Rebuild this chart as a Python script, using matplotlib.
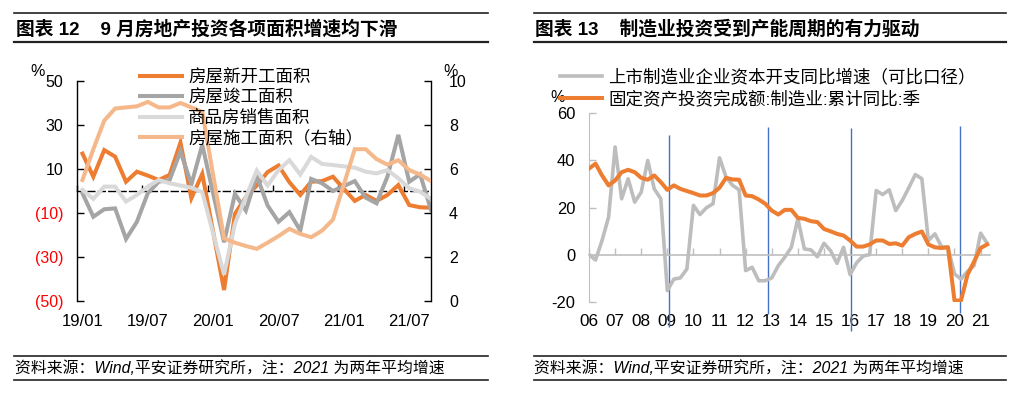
import numpy as np
import matplotlib
matplotlib.use('Agg')
import matplotlib.pyplot as plt
from matplotlib.lines import Line2D

plt.rcParams['font.family'] = ['Liberation Sans', 'Noto Sans CJK SC']
plt.rcParams['axes.unicode_minus'] = False

# ---------------- Left chart data (monthly 19/01 - 21/09, None = no January print) ----------------
months = [f'{y}/{m:02d}' for y in (19, 20, 21) for m in range(1, 13)][:33]
left_xticklabels = ['19/01', '19/07', '20/01', '20/07', '21/01', '21/07']
new_start = [17, 6.5, 18.6, 15.6, 4.2, 8.8, 7, 5, 7.3, 22,
             -3.3, 7.8, None, -45, -10.4, -2.8, 2.5, 8.6, 11.6, 4,
             -1.8, 4.2, 4.5, 6.5, None, -4.5, -1.8, -4.5, -1.8, 2.7,
             -6.4, -7.4, -7.6]
completed = [-1, -11.7, -8.3, -7.9, -21.8, -14, -1, 4.2, 5, 18,
             3, 21, None, -23.3, -1.3, -8.9, 7, -6.6, -14, -9.6,
             -18, 5.5, 3.5, 0, None, 4.5, -3, -5.6, 6.5, 25.5,
             4.2, 7.6, -8.6]
sales = [0.5, -3.6, 2, 2, -4.8, -1.8, 2, 5, 3.5, 2.5,
         1.5, -0.5, None, -38, -14.9, -2.8, 9.3, 2.5, 9.5, 14,
         7.5, 15.5, 12.3, 11.8, None, 10.6, 8.8, 8, 9.5, 5.8,
         1.2, -0.3, -3.6]
under_construction = [5.5, 6.9, 8.2, 8.75, 8.8, 8.85, 9.05, 8.8, 8.8, 9.0,
                      8.8, 8.6, None, 2.85, 2.65, 2.5, 2.37, 2.65, 2.95, 3.28,
                      3.05, 2.9, 3.2, 3.7, None, 6.9, 6.9, 6.45, 6.2, 6.4,
                      5.95, 5.75, 5.45]
left_yticks = [50, 30, 10, -10, -30, -50]
left_yticklabels = ['50', '30', '10', '(10)', '(30)', '(50)']
right_yticks = [0, 2, 4, 6, 8, 10]
left_labels = ['房屋新开工面积', '房屋竣工面积', '商品房销售面积', '房屋施工面积（右轴）']

# ---------------- Right chart data (quarterly 2006Q1 - 2021Q2) ----------------
quarters = [(y, q) for y in range(2006, 2022) for q in range(1, 5)][:62]
capex = [0, -2.3, 6, 15.9, 45.7, 23.7, 32.2, 22.3, 26.5, 40,
         27.9, 23.7, -15.3, -10.4, -9.9, -6.1, 20.9, 17, 19.9, 21.6,
         41.1, 32.9, 29.4, 27.5, -6.8, -5.4, -11.1, -11.1, -9.9, -4.7,
         -1.1, 3.1, 15.2, 2.4, 2, -0.9, 4.8, 1.7, -3.7, 3.1,
         -8.5, -3.5, -0.6, 0, 27.2, 25.5, 27.5, 18.7, 23, 28.4,
         34, 32.2, 6, 8.8, 3.4, 3.1, -8.2, -10.4, -7.1, -4.7,
         9.1, 4.8]
mfg_fai = [36.5, 38.6, 33.6, 29.4, 31.5, 35, 36, 35, 32.6, 31.8,
           33.6, 30.8, 27.5, 29.4, 27.9, 27, 26.1, 25.1, 25.1, 26.1,
           28.4, 32.6, 31.9, 31.8, 25.1, 24.8, 23.4, 21.6, 18.7, 17,
           19, 19, 15.6, 15.2, 14.2, 13.8, 10.9, 9.9, 8.8, 8.1,
           6, 3.4, 3.4, 4.3, 6, 6, 4.5, 4.8, 3.8, 7.4,
           8.8, 9.8, 4.3, 3.1, 2.8, 3.1, -19.5, -19.5, -8.5, -3,
           2.8, 4.3]
years = list(range(2006, 2022))
year_labels = [f'{y % 100:02d}' for y in years]
q_yticks = [-20, 0, 20, 40, 60]
right_labels = ['上市制造业企业资本开支同比增速（可比口径）', '固定资产投资完成额:制造业:累计同比:季']
# hand-drawn cycle divider lines (x in years, y range in % units)
cycle_x = [2009.05, 2012.85, 2016.05, 2020.2]
cycle_top = [50.9, 54.2, 53.7, 54.6]
cycle_bottom = [-30.9, -25.1, -32.3, -24.6]

# ---------------- Figure ----------------
W, H = 1024, 397
fig = plt.figure(figsize=(W / 100, H / 100), dpi=100)

C_ORANGE = '#ED7D31'
C_GRAY = '#A5A5A5'
C_LGRAY = '#D9D9D9'
C_PEACH = '#F5B88A'


def series(ax, xv, vals, **kw):
    y = np.array([np.nan if v is None else v for v in vals], float)
    m = ~np.isnan(y)
    return ax.plot(np.asarray(xv)[m], y[m], **kw)[0]


# ---- Left chart ----
axL = fig.add_axes([77 / W, 1 - 301 / H, 354 / W, 220 / H])
xi = np.arange(len(months))
h1 = series(axL, xi, new_start, color=C_ORANGE, lw=2.9, zorder=3, solid_joinstyle='miter')
h2 = series(axL, xi, completed, color=C_GRAY, lw=2.9, zorder=3, solid_joinstyle='miter')
h3 = series(axL, xi, sales, color=C_LGRAY, lw=2.9, zorder=3, solid_joinstyle='miter')
axL.set_xlim(-0.35, 32)
axL.set_ylim(-50, 50)
for s in ('top', 'right'):
    axL.spines[s].set_visible(False)
axL.spines['left'].set_linewidth(1.0)
axL.spines['bottom'].set_position(('data', 0))
axL.spines['bottom'].set_linestyle((0, (5, 2.5)))
axL.spines['bottom'].set_linewidth(1.0)
tick_idx = [months.index(l) for l in left_xticklabels]
axL.set_xticks([t - 0.5 for t in tick_idx])
axL.tick_params(axis='x', direction='in', length=4, width=1, labelbottom=False)
axL.set_yticks(left_yticks)
axL.set_yticklabels(left_yticklabels)
axL.tick_params(axis='y', direction='in', length=5, width=1, pad=10, labelsize=11.5)
for lab, v in zip(axL.get_yticklabels(), left_yticks):
    lab.set_color('#FF0000' if v < 0 else 'black')
secL = axL.secondary_xaxis('bottom')
secL.set_xticks(tick_idx)
secL.set_xticklabels(left_xticklabels)
secL.tick_params(length=0, pad=9, labelsize=12)
secL.spines['bottom'].set_visible(False)

axR = axL.twinx()
h4 = series(axR, xi, under_construction, color=C_PEACH, lw=2.9, zorder=3, solid_joinstyle='miter')
axR.set_ylim(0, 10)
axR.set_yticks(right_yticks)
axR.set_yticklabels([str(v) for v in right_yticks])
for s in ('top', 'left', 'bottom'):
    axR.spines[s].set_visible(False)
axR.spines['right'].set_linewidth(1.0)
axR.tick_params(axis='y', direction='in', length=5, width=1, pad=13, labelsize=11.5)

fig.legend([h1, h2, h3, h4], left_labels, loc='upper left',
           bbox_to_anchor=(140 / W, 1 - 69 / H), frameon=False, fontsize=12.6,
           handlelength=2.4, handletextpad=0.35, labelspacing=0.22,
           borderpad=0, borderaxespad=0)
fig.text(38 / W, 1 - 72 / H, '%', fontsize=11.5, ha='center', va='center')
fig.text(451 / W, 1 - 72 / H, '%', fontsize=11.5, ha='center', va='center')

# ---- Right chart ----
axQ = fig.add_axes([589 / W, 1 - 301.7 / H, 401 / W, 188.4 / H])
qx = [y + (q - 1) / 4 for (y, q) in quarters]
axQ.vlines(cycle_x, cycle_bottom, cycle_top, colors='#4472C4', lw=1.0, clip_on=False, zorder=1.5)
g1 = series(axQ, qx, capex, color='#BDBDBD', lw=2.6, zorder=3)
g2 = series(axQ, qx, mfg_fai, color=C_ORANGE, lw=2.9, zorder=4)
axQ.set_xlim(2006, 2021.36)
axQ.set_ylim(-20, 60)
for s in ('top', 'right'):
    axQ.spines[s].set_visible(False)
axQ.spines['left'].set_color('#BFBFBF')
axQ.spines['bottom'].set_position(('data', 0))
axQ.spines['bottom'].set_color('#BFBFBF')
axQ.spines['bottom'].set_linewidth(1.2)
axQ.set_xticks(years)
axQ.tick_params(axis='x', direction='in', length=5, width=1, color='#BFBFBF', labelbottom=False)
axQ.set_yticks(q_yticks)
axQ.set_yticklabels([str(v) for v in q_yticks])
axQ.tick_params(axis='y', direction='in', length=5, width=1, color='#BFBFBF', pad=10, labelsize=11.9)
secQ = axQ.secondary_xaxis('bottom')
secQ.set_xticks(years)
secQ.set_xticklabels(year_labels)
secQ.tick_params(length=0, pad=9, labelsize=12.3)
secQ.spines['bottom'].set_visible(False)

fig.legend([g1, g2], right_labels, loc='upper left',
           bbox_to_anchor=(560 / W, 1 - 68 / H), frameon=False, fontsize=12.6,
           handlelength=2.4, handletextpad=0.35, labelspacing=0.3,
           borderpad=0, borderaxespad=0)
fig.text(558 / W, 1 - 97 / H, '%', fontsize=11.5, ha='center', va='center')

# ---- Titles, rules and footers ----
def hline(x0, x1, y, lw):
    fig.add_artist(Line2D([x0 / W, x1 / W], [1 - y / H, 1 - y / H], color='#222222', lw=lw,
                          transform=fig.transFigure))

for (x0, x1) in ((14, 488), (533.5, 1006)):
    hline(x0, x1, 13.3, 1.2)
    hline(x0, x1, 42.3, 1.6)
    hline(x0, x1, 355.7, 1.2)
    hline(x0, x1, 380, 1.2)

fig.text(16 / W, 1 - 29 / H, '图表 12    9 月房地产投资各项面积增速均下滑', fontsize=13.5,
         fontweight='bold', ha='left', va='center')
fig.text(535 / W, 1 - 29 / H, '图表 13    制造业投资受到产能周期的有力驱动', fontsize=13.5,
         fontweight='bold', ha='left', va='center')
foot = '资料来源：Wind,平安证券研究所，注：2021 为两年平均增速'
fig.text(15 / W, 1 - 368 / H, foot, fontsize=11.4, style='italic', ha='left', va='center')
fig.text(534 / W, 1 - 368 / H, foot, fontsize=11.4, style='italic', ha='left', va='center')

fig.savefig('out.png', dpi=100)
